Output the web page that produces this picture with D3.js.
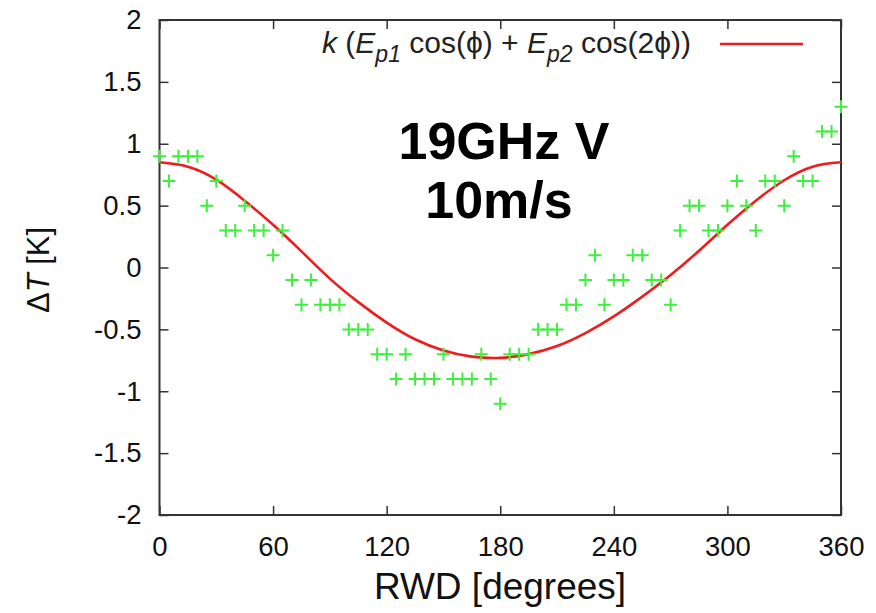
<!DOCTYPE html>
<html>
<head>
<meta charset="utf-8">
<script src="https://cdn.jsdelivr.net/npm/d3@7"></script>
<style>
html,body{margin:0;padding:0;background:#fff;}
svg{display:block;}
text{font-family:"Liberation Sans",Arial,sans-serif;}
</style>
</head>
<body>
<svg id="chart" width="876" height="613"></svg>
<script>
// ---- data ----
const obsAngle = [0,5,10,15,20,25,30,35,40,45,50,55,60,65,70,75,80,85,90,95,100,105,110,115,120,125,130,135,140,145,150,155,160,165,170,175,180,185,190,195,200,205,210,215,220,225,230,235,240,245,250,255,260,265,270,275,280,285,290,295,300,305,310,315,320,325,330,335,340,345,350,355,360];
const obsDeltaT = [0.9,0.7,0.9,0.9,0.9,0.5,0.7,0.3,0.3,0.5,0.3,0.3,0.1,0.3,-0.1,-0.3,-0.1,-0.3,-0.3,-0.3,-0.5,-0.5,-0.5,-0.7,-0.7,-0.9,-0.7,-0.9,-0.9,-0.9,-0.7,-0.9,-0.9,-0.9,-0.7,-0.9,-1.1,-0.7,-0.7,-0.7,-0.5,-0.5,-0.5,-0.3,-0.3,-0.1,0.1,-0.3,-0.1,-0.1,0.1,0.1,-0.1,-0.1,-0.3,0.3,0.5,0.5,0.3,0.3,0.5,0.7,0.5,0.3,0.7,0.7,0.5,0.9,0.7,0.7,1.1,1.1,1.3];
const fitAngle = [0,15,30,45,60,75,90,105,120,135,150,165,180,195,210,225,240,255,270,285,300,315,330,345,360];
const fitDeltaT = [0.85,0.815,0.71,0.54,0.345,0.13,-0.09,-0.28,-0.445,-0.58,-0.67,-0.72,-0.73,-0.70,-0.635,-0.53,-0.395,-0.235,-0.06,0.135,0.345,0.54,0.705,0.815,0.85];
const xTicks = [0,60,120,180,240,300,360];
const yTicks = [-2,-1.5,-1,-0.5,0,0.5,1,1.5,2];
const annotationLines = ["19GHz V","10m/s"];
const xTitle = "RWD [degrees]";

// ---- layout ----
const svg = d3.select("#chart");
const L = 159.5, R = 841, T = 20, B = 515;
const x = d3.scaleLinear().domain([0,360]).range([L,R]);
const y = d3.scaleLinear().domain([-2,2]).range([B,T]);
const axisColor = "#333";

// axes with inward ticks
const gx = svg.append("g").attr("transform",`translate(0,${B})`)
  .call(d3.axisBottom(x).tickValues(xTicks).tickSizeInner(-9).tickSizeOuter(0).tickPadding(21).tickFormat(d3.format("d")));
const gy = svg.append("g").attr("transform",`translate(${L},0)`)
  .call(d3.axisLeft(y).tickValues(yTicks).tickSizeInner(-9).tickSizeOuter(0).tickPadding(18).tickFormat(d=>String(d)));
const gt = svg.append("g").attr("transform",`translate(0,${T})`)
  .call(d3.axisTop(x).tickValues(xTicks).tickSizeInner(-9).tickSizeOuter(0).tickFormat(""));
const gr = svg.append("g").attr("transform",`translate(${R},0)`)
  .call(d3.axisRight(y).tickValues(yTicks).tickSizeInner(-9).tickSizeOuter(0).tickFormat(""));
[gx,gy,gt,gr].forEach(g=>{
  g.select(".domain").remove();
  g.selectAll(".tick line").attr("stroke",axisColor).attr("stroke-width",1.5);
  g.selectAll(".tick text").attr("fill","#111").attr("font-size",27.5).attr("font-family","'Liberation Sans',Arial,sans-serif");
});
gx.selectAll(".tick text").attr("dy","0.71em");
svg.append("rect").attr("x",L).attr("y",T).attr("width",R-L).attr("height",B-T)
  .attr("fill","none").attr("stroke",axisColor).attr("stroke-width",2);

// fitted curve
const line = d3.line().x((d,i)=>x(fitAngle[i])).y(d=>y(d)).curve(d3.curveNatural);
svg.append("path").datum(fitDeltaT).attr("d",line)
  .attr("fill","none").attr("stroke","#ee1c1c").attr("stroke-width",2.6);

// observation crosses
const h = 6.5;
const pts = svg.append("g").attr("stroke","#3df03d").attr("stroke-width",2);
obsDeltaT.forEach((v,i)=>{
  const cx = x(obsAngle[i]), cy = y(v);
  pts.append("path").attr("d",`M${cx-h},${cy}H${cx+h}M${cx},${cy-h}V${cy+h}`);
});

// legend
const lg = svg.append("text").attr("x",322).attr("y",53).attr("font-size",30).attr("fill","#222");
lg.append("tspan").attr("font-style","italic").text("k");
lg.append("tspan").text(" (");
lg.append("tspan").attr("font-style","italic").text("E");
lg.append("tspan").attr("font-style","italic").attr("font-size",23).attr("dy",9).text("p1");
lg.append("tspan").attr("dy",-9).text(" cos(\u03D5) + ");
lg.append("tspan").attr("font-style","italic").text("E");
lg.append("tspan").attr("font-style","italic").attr("font-size",23).attr("dy",9).text("p2");
lg.append("tspan").attr("dy",-9).text(" cos(2\u03D5))");
svg.append("line").attr("x1",720).attr("x2",803).attr("y1",44).attr("y2",44)
  .attr("stroke","#ee1c1c").attr("stroke-width",2.6);

// annotation
svg.selectAll("text.anno").data(annotationLines).enter().append("text")
  .attr("class","anno")
  .attr("x",(d,i)=>i===0?504:499).attr("y",(d,i)=>i===0?159:218)
  .attr("text-anchor","middle").attr("font-weight","bold").attr("font-size",52)
  .attr("fill","#000").text(d=>d);

// axis titles
svg.append("text").attr("x",500).attr("y",599).attr("text-anchor","middle")
  .attr("font-size",37).attr("fill","#111").text(xTitle);
const yt = svg.append("text").attr("transform","translate(49,270) rotate(-90)")
  .attr("text-anchor","middle").attr("font-size",31).attr("fill","#111");
yt.append("tspan").text("\u0394");
yt.append("tspan").attr("font-style","italic").text("T");
yt.append("tspan").text(" [K]");
</script>
</body>
</html>
